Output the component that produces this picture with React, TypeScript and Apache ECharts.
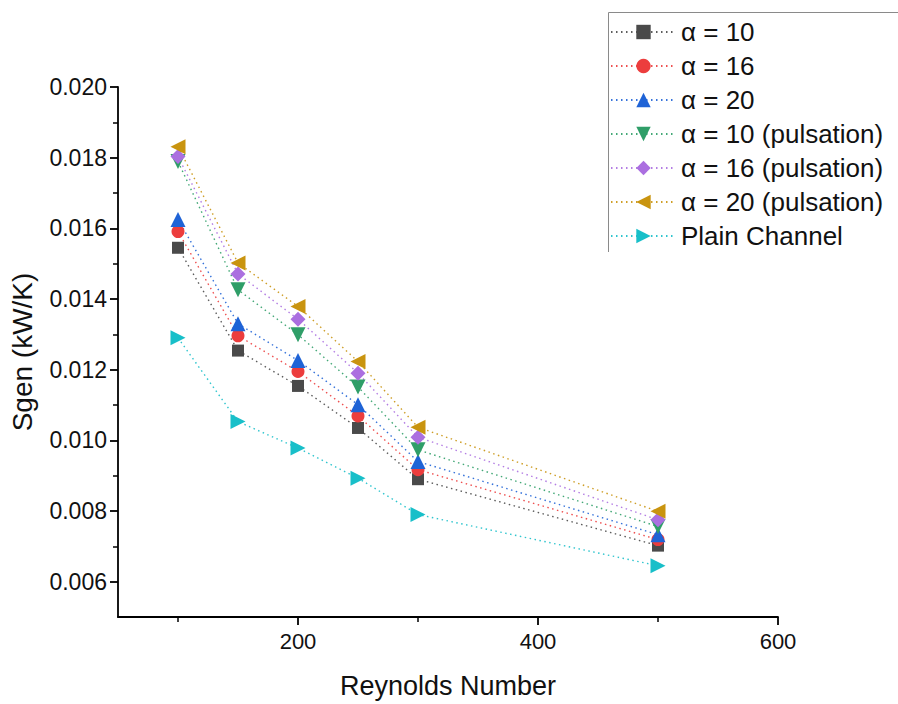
import React, { useEffect, useRef } from "react";
import * as echarts from "echarts";

const reynolds = [100, 150, 200, 250, 300, 500];
const alpha10 = [0.01545, 0.01254, 0.01154, 0.01035, 0.0089, 0.00702];
const alpha16 = [0.01591, 0.01296, 0.01195, 0.01069, 0.00917, 0.00719];
const alpha20 = [0.01625, 0.0133, 0.01226, 0.01101, 0.0094, 0.00733];
const alpha10p = [0.01789, 0.01426, 0.01299, 0.01151, 0.00973, 0.00756];
const alpha16p = [0.01803, 0.01471, 0.01343, 0.0119, 0.01009, 0.00775];
const alpha20p = [0.01831, 0.01502, 0.01379, 0.01223, 0.01037, 0.00799];
const plainChannel = [0.0129, 0.01053, 0.00978, 0.00893, 0.0079, 0.00645];

const seriesNames = [
  "α = 10",
  "α = 16",
  "α = 20",
  "α = 10 (pulsation)",
  "α = 16 (pulsation)",
  "α = 20 (pulsation)",
  "Plain Channel",
];
const seriesValues = [alpha10, alpha16, alpha20, alpha10p, alpha16p, alpha20p, plainChannel];
const colors = ["#4a4a4a", "#ec3d3d", "#1f63d6", "#2f9e68", "#ab6fe0", "#c9940f", "#18bfc9"];
const symbols = ["rect", "circle", "triangle", "triangle", "diamond", "triangle", "triangle"];
const rotations = [0, 0, 0, 180, 0, 90, -90];
const sizes = [12, 13, 15, 15, 15, 15, 15];

const xMajorTicks = [200, 400, 600];
const xMinorTicks = [100, 300, 500];
const yMajorTicks = [0.006, 0.008, 0.01, 0.012, 0.014, 0.016, 0.018, 0.02];
const yMinorTicks = [0.007, 0.009, 0.011, 0.013, 0.015, 0.017, 0.019];

const FONT = "'Liberation Sans', Arial, sans-serif";

export default function App() {
  const ref = useRef<HTMLDivElement>(null);
  useEffect(() => {
    if (!ref.current) return;
    const chart = echarts.init(ref.current, undefined, { renderer: "svg" });
    const axisLine = { show: true, lineStyle: { color: "#000", width: 1.8 } };
    chart.setOption({
      animation: false,
      backgroundColor: "#fff",
      textStyle: { fontFamily: FONT },
      grid: { left: 117, right: 120, top: 87, bottom: 86 },
      legend: {
        orient: "vertical",
        left: 610,
        top: 19,
        padding: 0,
        itemWidth: 65,
        itemHeight: 18,
        itemGap: 8,
        textStyle: { fontSize: 26, color: "#111", fontFamily: FONT },
        data: seriesNames,
      },
      graphic: [
        {
          type: "polyline",
          shape: { points: [[608.5, 252], [608.5, 12.5], [898, 12.5]] },
          style: { stroke: "#8a8a8a", lineWidth: 1, fill: "none" },
          silent: true,
        },
      ],
      xAxis: [
        {
          type: "value",
          min: 50,
          max: 600,
          name: "Reynolds Number",
          nameLocation: "middle",
          nameGap: 55,
          nameTextStyle: { fontSize: 27, color: "#111", fontFamily: FONT },
          axisLine,
          axisTick: { show: true, customValues: xMajorTicks, length: 8, lineStyle: { color: "#000", width: 1.8 } },
          axisLabel: {
            customValues: xMajorTicks,
            fontSize: 22,
            color: "#111",
            margin: 13,
            fontFamily: FONT,
          },
          splitLine: { show: false },
        },
        {
          type: "value",
          min: 50,
          max: 600,
          position: "bottom",
          axisLine: { show: false },
          axisTick: { show: true, customValues: xMinorTicks, length: 5, lineStyle: { color: "#000", width: 1.5 } },
          axisLabel: { show: false },
          splitLine: { show: false },
        },
      ],
      yAxis: [
        {
          type: "value",
          min: 0.005,
          max: 0.02,
          name: "Sgen (kW/K)",
          nameLocation: "middle",
          nameGap: 82,
          nameTextStyle: { fontSize: 28, color: "#111", fontFamily: FONT },
          axisLine,
          axisTick: { show: true, customValues: yMajorTicks, length: 8, lineStyle: { color: "#000", width: 1.8 } },
          axisLabel: {
            customValues: yMajorTicks,
            fontSize: 23,
            color: "#111",
            margin: 11,
            fontFamily: FONT,
            formatter: (v: number) => v.toFixed(3),
          },
          splitLine: { show: false },
        },
        {
          type: "value",
          min: 0.005,
          max: 0.02,
          position: "left",
          axisLine: { show: false },
          axisTick: { show: true, customValues: yMinorTicks, length: 5, lineStyle: { color: "#000", width: 1.5 } },
          axisLabel: { show: false },
          splitLine: { show: false },
        },
      ],
      series: seriesNames.map((name, i) => ({
        name,
        type: "line",
        xAxisIndex: 0,
        yAxisIndex: 0,
        data: reynolds.map((x, j) => [x, seriesValues[i][j]]),
        symbol: symbols[i],
        symbolRotate: rotations[i],
        symbolSize: sizes[i],
        showSymbol: true,
        color: colors[i],
        itemStyle: { color: colors[i], opacity: 1 },
        lineStyle: { color: colors[i], width: 1.4, type: [1.5, 3.5], opacity: 0.9 },
        emphasis: { disabled: true },
      })),
    });
    return () => chart.dispose();
  }, []);
  return (
    <div
      ref={ref}
      style={{ position: "fixed", left: 0, top: 0, width: 898, height: 704, background: "#fff" }}
    />
  );
}
